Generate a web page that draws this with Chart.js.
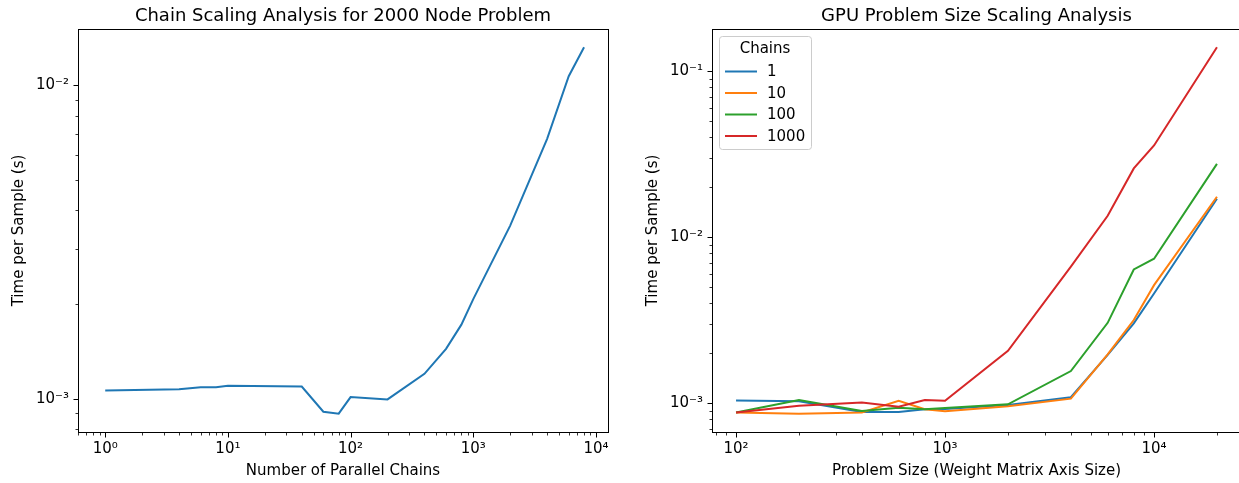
<!DOCTYPE html>
<html>
<head>
<meta charset="utf-8">
<script src="https://cdn.jsdelivr.net/npm/chart.js@4.4.0/dist/chart.umd.min.js"></script>
<style>
  html, body { margin: 0; padding: 0; background: #fff; overflow: hidden; }
  #page { position: relative; width: 1239px; height: 483px; overflow: hidden; }
  .panel { position: absolute; top: 0; }
</style>
</head>
<body>
<div id="page">
  <canvas id="chainChart" class="panel" width="620" height="483" style="left:0"></canvas>
  <canvas id="sizeChart" class="panel" width="620" height="483" style="left:634px"></canvas>
</div>
<script>
// chain scaling, 2000 node problem
const chainCounts = [1, 4, 6, 8, 10, 40, 60, 80, 100, 200, 400, 600, 800, 1000, 2000, 4000, 6000, 8000];
const chainTimes = [1.063e-3, 1.073e-3, 1.089e-3, 1.089e-3, 1.100e-3, 1.094e-3, 0.909e-3, 0.896e-3,
  1.012e-3, 0.995e-3, 1.201e-3, 1.443e-3, 1.724e-3, 2.08e-3, 3.57e-3, 6.76e-3, 1.071e-2, 1.324e-2];

// problem size scaling, one series per chain count
const problemSizes = [100, 200, 400, 600, 800, 1000, 2000, 4000, 6000, 8000, 10000, 20000];
const chainLabels = ['1', '10', '100', '1000'];
const times1 = [1.04e-3, 1.03e-3, 0.887e-3, 0.887e-3, 0.922e-3, 0.925e-3, 0.977e-3, 1.087e-3, 1.954e-3, 3.03e-3, 4.58e-3, 1.70e-2];
const times10 = [0.88e-3, 0.866e-3, 0.88e-3, 1.037e-3, 0.922e-3, 0.895e-3, 0.96e-3, 1.067e-3, 1.97e-3, 3.17e-3, 5.14e-3, 1.75e-2];
const times100 = [0.88e-3, 1.048e-3, 0.90e-3, 0.941e-3, 0.922e-3, 0.936e-3, 0.986e-3, 1.564e-3, 3.05e-3, 6.39e-3, 7.41e-3, 2.76e-2];
const times1000 = [0.88e-3, 0.968e-3, 1.01e-3, 0.953e-3, 1.046e-3, 1.035e-3, 2.07e-3, 6.64e-3, 1.343e-2, 2.59e-2, 3.56e-2, 0.1387];

const palette = ['#1f77b4', '#ff7f0e', '#2ca02c', '#d62728'];
const FONT = "'DejaVu Sans', sans-serif";
const LABEL_SIZE = 15;
const TITLE_SIZE = 18;

const SUP = {'0':'⁰','1':'¹','2':'²','3':'³','4':'⁴','5':'⁵','6':'⁶','7':'⁷','8':'⁸','9':'⁹','-':'⁻'};

function isPow10(v) {
  const l = Math.log10(v);
  return Math.abs(l - Math.round(l)) < 1e-9;
}

function powLabel(v) {
  const e = Math.round(Math.log10(v));
  return '10' + String(e).split('').map(c => SUP[c]).join('');
}

// 1..9 x 10^k inside [min, max]
function logTicks(min, max) {
  const out = [];
  for (let e = Math.floor(Math.log10(min)); e <= Math.ceil(Math.log10(max)); e++) {
    for (let m = 1; m <= 9; m++) {
      const v = Number((m * Math.pow(10, e)).toPrecision(12));
      if (v >= min && v <= max) out.push(v);
    }
  }
  return out;
}

// autoscale with a 5% margin in log space
function logRange(values) {
  const lo = Math.log10(Math.min(...values));
  const hi = Math.log10(Math.max(...values));
  const pad = (hi - lo) * 0.05;
  return { min: Math.pow(10, lo - pad), max: Math.pow(10, hi + pad) };
}

function logAxis(range, title, isX) {
  return {
    type: 'logarithmic',
    min: range.min,
    max: range.max,
    grid: { display: false, drawTicks: false },
    border: { display: false },
    ticks: {
      autoSkip: false,
      maxRotation: 0,
      padding: isX ? 8 : 9,
      color: '#000',
      font: { family: FONT, size: LABEL_SIZE },
      callback: v => isPow10(v) ? powLabel(v) : ''
    },
    afterBuildTicks: scale => {
      scale.ticks = logTicks(scale.min, scale.max).map(v => ({ value: v, major: isPow10(v) }));
    },
    afterFit: scale => {
      if (isX) scale.height = 51; else scale.width = 78;
    },
    title: {
      display: true,
      text: title,
      color: '#000',
      font: { family: FONT, size: LABEL_SIZE },
      padding: isX ? { top: 0, bottom: 3 } : { top: 10, bottom: 0 }
    }
  };
}

// frame, tick marks and axes title in the matplotlib manner
const framePlugin = {
  id: 'frame',
  afterDraw(chart, args, opts) {
    const { ctx, chartArea: a } = chart;
    const xs = chart.scales.x, ys = chart.scales.y;
    ctx.save();
    ctx.strokeStyle = '#000';
    ctx.lineWidth = 1;
    ctx.strokeRect(Math.round(a.left) + 0.5, Math.round(a.top) + 0.5,
      Math.round(a.right - a.left), Math.round(a.bottom - a.top));

    xs.ticks.forEach(t => {
      const px = Math.round(xs.getPixelForValue(t.value)) + 0.5;
      const len = t.major ? 5 : 3;
      ctx.lineWidth = t.major ? 1 : 0.8;
      ctx.beginPath();
      ctx.moveTo(px, Math.round(a.bottom) + 0.5);
      ctx.lineTo(px, Math.round(a.bottom) + 0.5 + len);
      ctx.stroke();
    });
    ys.ticks.forEach(t => {
      const py = Math.round(ys.getPixelForValue(t.value)) + 0.5;
      const len = t.major ? 5 : 3;
      ctx.lineWidth = t.major ? 1 : 0.8;
      ctx.beginPath();
      ctx.moveTo(Math.round(a.left) + 0.5, py);
      ctx.lineTo(Math.round(a.left) + 0.5 - len, py);
      ctx.stroke();
    });

    ctx.fillStyle = '#000';
    ctx.font = TITLE_SIZE + 'px ' + FONT;
    ctx.textAlign = 'center';
    ctx.textBaseline = 'alphabetic';
    ctx.fillText(opts.text, (a.left + a.right) / 2, a.top - 8);
    ctx.restore();
  }
};

// boxed legend with a title, upper left inside the plot
const boxLegendPlugin = {
  id: 'boxLegend',
  afterDraw(chart, args, opts) {
    if (!opts.display) return;
    const { ctx, chartArea: a } = chart;
    const x0 = a.left + 7, y0 = a.top + 7, w = 92, h = 113, r = 3;
    ctx.save();
    ctx.fillStyle = 'rgba(255,255,255,0.8)';
    ctx.strokeStyle = '#cccccc';
    ctx.lineWidth = 1;
    ctx.beginPath();
    ctx.roundRect(x0 + 0.5, y0 + 0.5, w, h, r);
    ctx.fill();
    ctx.stroke();

    ctx.font = LABEL_SIZE + 'px ' + FONT;
    ctx.fillStyle = '#000';
    ctx.textBaseline = 'middle';
    ctx.textAlign = 'center';
    ctx.fillText(opts.title, x0 + w / 2, y0 + 13);

    ctx.textAlign = 'left';
    chart.data.datasets.forEach((ds, i) => {
      const y = y0 + 35.5 + i * 21.5;
      ctx.strokeStyle = ds.borderColor;
      ctx.lineWidth = 2;
      ctx.beginPath();
      ctx.moveTo(x0 + 6, y);
      ctx.lineTo(x0 + 38, y);
      ctx.stroke();
      ctx.fillStyle = '#000';
      ctx.fillText(ds.label, x0 + 48, y + 1);
    });
    ctx.restore();
  }
};

function points(xs, ys) {
  return xs.map((x, i) => ({ x: x, y: ys[i] }));
}

function lineOptions(title, xRange, yRange, xTitle, legendTitle, padRight) {
  return {
    responsive: false,
    animation: false,
    devicePixelRatio: 1,
    layout: { padding: { top: 29, right: padRight, bottom: 0, left: 0 } },
    elements: { point: { radius: 0 }, line: { borderWidth: 2, tension: 0 } },
    scales: {
      x: logAxis(xRange, xTitle, true),
      y: logAxis(yRange, 'Time per Sample (s)', false)
    },
    plugins: {
      legend: { display: false },
      tooltip: { enabled: false },
      frame: { text: title },
      boxLegend: { display: !!legendTitle, title: legendTitle }
    }
  };
}

new Chart(document.getElementById('chainChart'), {
  type: 'line',
  data: {
    datasets: [{
      label: 'chains',
      data: points(chainCounts, chainTimes),
      borderColor: palette[0],
      fill: false
    }]
  },
  options: lineOptions('Chain Scaling Analysis for 2000 Node Problem',
    logRange(chainCounts), logRange(chainTimes), 'Number of Parallel Chains', null, 12),
  plugins: [framePlugin, boxLegendPlugin]
});

const sizeSeries = [times1, times10, times100, times1000];
new Chart(document.getElementById('sizeChart'), {
  type: 'line',
  data: {
    datasets: sizeSeries.map((s, i) => ({
      label: chainLabels[i],
      data: points(problemSizes, s),
      borderColor: palette[i],
      fill: false,
      order: sizeSeries.length - i
    }))
  },
  options: lineOptions('GPU Problem Size Scaling Analysis',
    logRange(problemSizes), logRange([].concat(...sizeSeries)),
    'Problem Size (Weight Matrix Axis Size)', 'Chains', 13),
  plugins: [framePlugin, boxLegendPlugin]
});
</script>
</body>
</html>
